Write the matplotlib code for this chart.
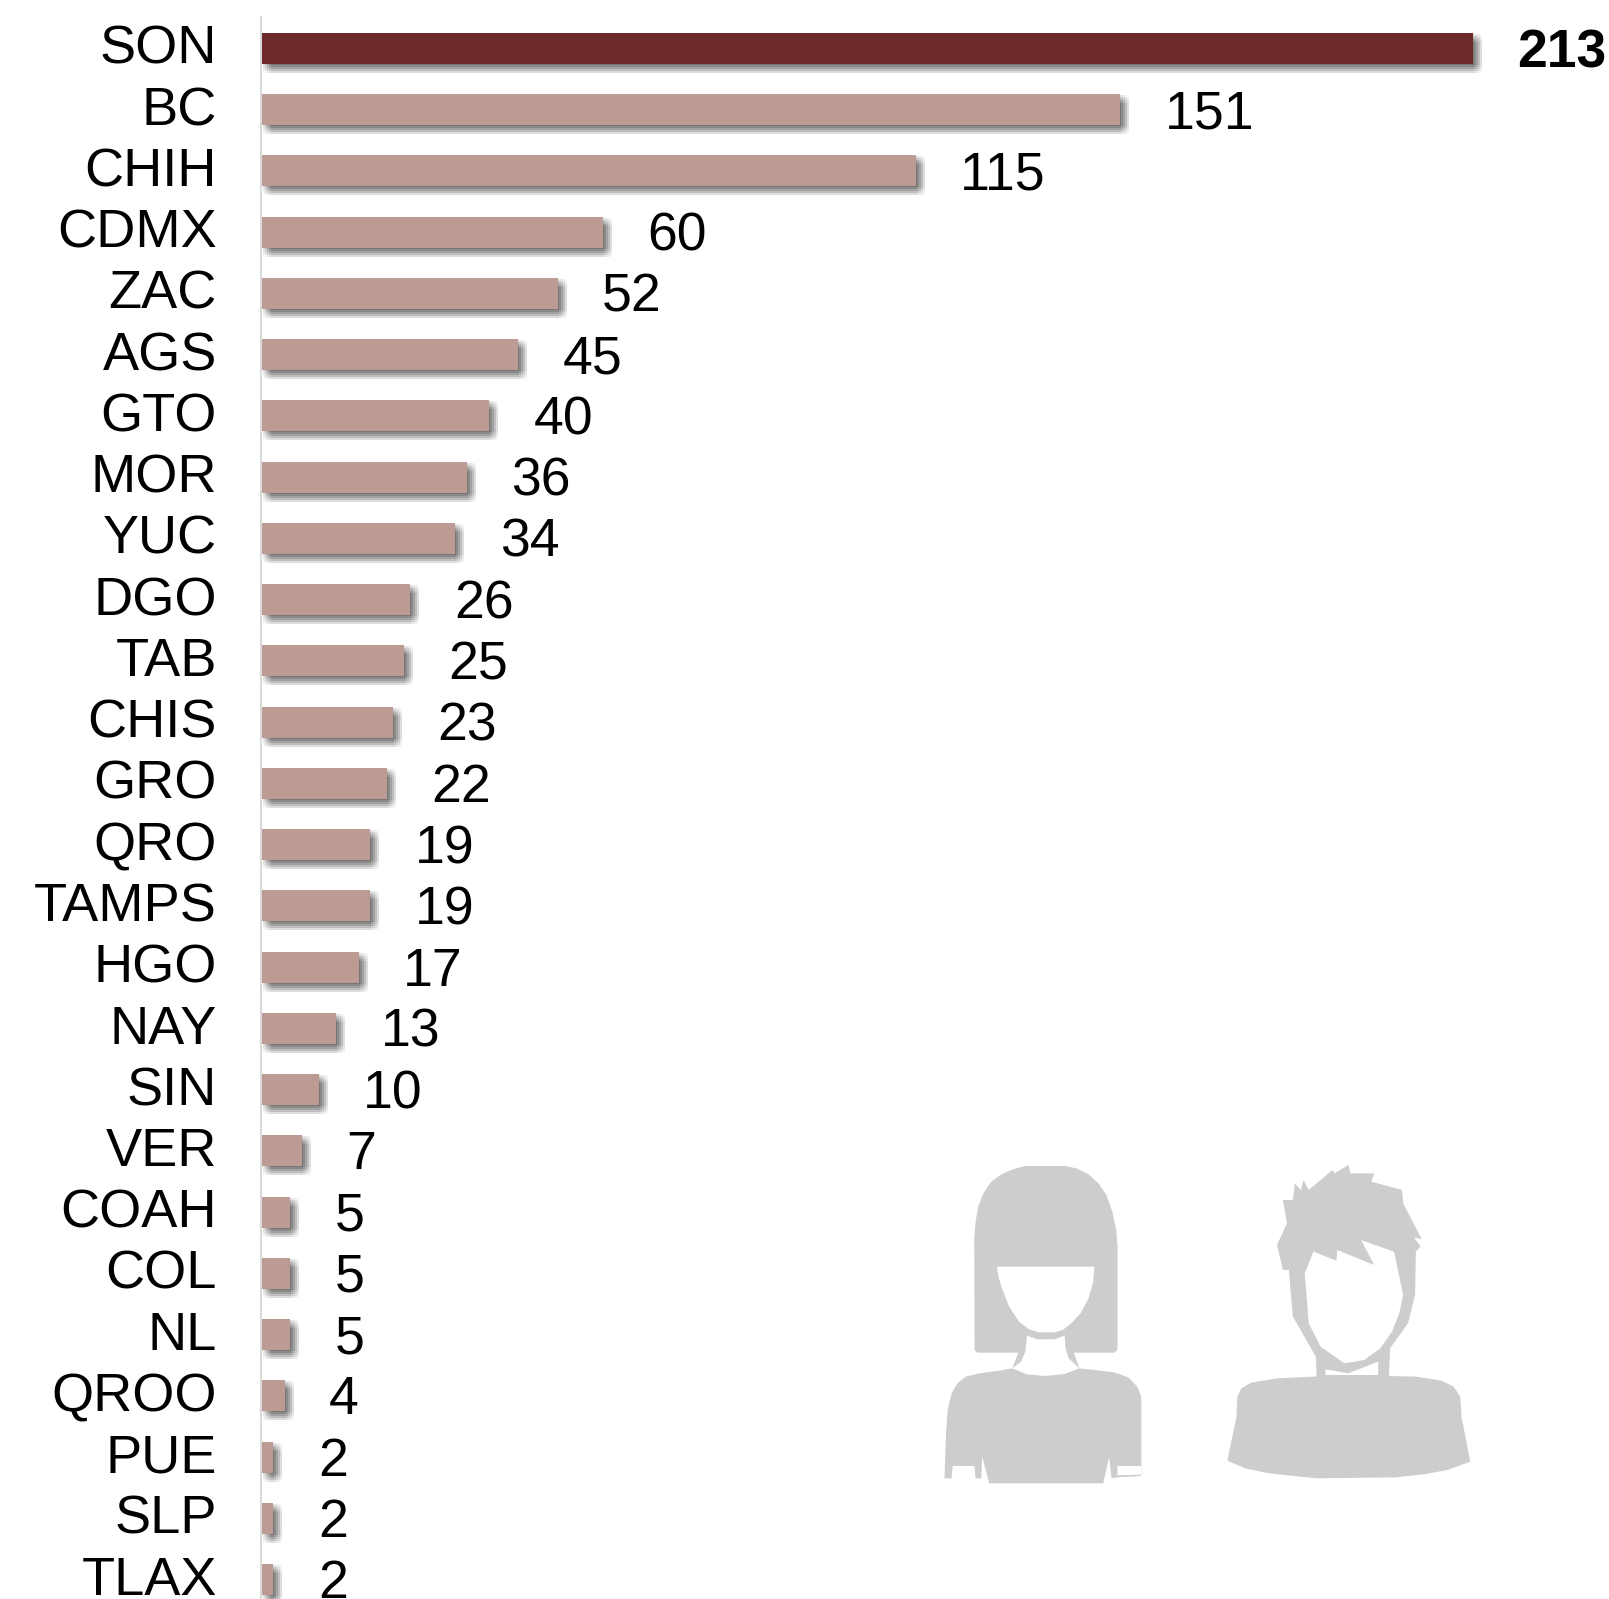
import matplotlib
matplotlib.use("Agg")
import matplotlib.pyplot as plt
import matplotlib.patheffects as pe
from matplotlib.patches import Polygon

plt.rcParams['font.family'] = ['Liberation Sans', 'DejaVu Sans']

states = ["SON","BC","CHIH","CDMX","ZAC","AGS","GTO","MOR","YUC","DGO","TAB","CHIS","GRO",
          "QRO","TAMPS","HGO","NAY","SIN","VER","COAH","COL","NL","QROO","PUE","SLP","TLAX"]
values = [213,151,115,60,52,45,40,36,34,26,25,23,22,19,19,17,13,10,7,5,5,5,4,2,2,2]

W, H = 1609, 1599
PX = 72 / 100
FS_CAT = 39
FS_VAL = 38.5
DARK, LIGHT, ICON = "#6E2A2A", "#BC9B95", "#CDCDCD"

fig = plt.figure(figsize=(W/100, H/100), dpi=100, facecolor="white")
ax = fig.add_axes([262/W, 0, 1-262/W, 1])
ax.set_xlim(0, (W-262)/5.685)
ax.set_ylim((H-48.5)/61.24, -48.5/61.24)

# soft drop shadow: a stack of faint offset copies
shadow = []
for dx in (1, 3, 5, 7, 9):
    for dy in (1, 3, 5, 7, 9):
        shadow.append(pe.SimplePatchShadow(offset=(dx*PX, -dy*PX), shadow_rgbFace="#000000", alpha=0.028))
shadow.append(pe.Normal())

colors = [DARK] + [LIGHT]*(len(values)-1)
bars = ax.barh(range(len(values)), values, height=31/61.24, color=colors, linewidth=0)
for b in bars:
    b.set_path_effects(shadow)
    b.set_clip_on(False)

for i, v in enumerate(values):
    ax.annotate(str(v), (v, i), xytext=(44.5*PX, 1*PX), textcoords="offset points",
                ha="left", va="center_baseline", fontsize=FS_VAL, color="black",
                fontweight="bold" if i == 0 else "normal", annotation_clip=False)

# category labels sit slightly above the bar centres
nudge = 4 / 61.24
ax.set_yticks([i - nudge for i in range(len(states))])
ax.set_yticklabels(states)
ax.tick_params(axis="y", length=0, pad=44*PX, labelsize=FS_CAT, labelcolor="black")
for t in ax.get_yticklabels():
    t.set_verticalalignment("center_baseline")
ax.tick_params(axis="x", bottom=False, labelbottom=False)
for s in ["top", "right", "bottom"]:
    ax.spines[s].set_visible(False)
ax.spines["left"].set_color("#D9D9D9")
ax.spines["left"].set_linewidth(2*PX)
ax.spines["left"].set_position(("outward", 1*PX))
ax.spines["left"].set_bounds((17-48.5)/61.24, (H-48.5)/61.24)

# decorative silhouettes, outlines in crop units (2.52 per px across, 3 per px down)
ov = fig.add_axes([0, 0, 1, 1], facecolor="none")
ov.set_xlim(0, W); ov.set_ylim(H, 0); ov.axis("off")
def shape(pts, col):
    ov.add_patch(Polygon([(900+x/2.52, 1140+y/3) for x, y in pts], closed=True, fc=col, ec="none"))

woman_hair = [(188,630),(187,300),(190,250),(197,200),(210,160),(230,125),(255,103),(285,88),(315,78),
              (415,78),(445,85),(475,103),(500,130),(520,165),(535,215),(545,270),(548,320),(548,630),
              (540,638),(438,638),(452,685),(283,685),(298,638),(195,638)]
woman_body = [(283,685),(250,692),(200,700),(165,710),(145,730),(130,760),(120,810),(116,880),(112,1015),
              (130,1015),(133,978),(188,978),(190,1015),(205,1015),(207,950),(225,1030),(512,1030),(527,950),
              (533,1015),(547,1012),(608,1008),(608,770),(598,740),(575,712),(540,697),(490,690),(452,685)]
woman_patch = [(548,978),(608,978),(608,1004),(548,1006)]
woman_face = [(244,380),(490,380),(487,425),(475,475),(455,520),(430,552),(410,570),(390,577),(350,577),
              (325,568),(300,545),(275,500),(257,445),(248,410)]
woman_neck = [(320,587),(345,598),(390,598),(415,587),(417,625),(425,655),(452,685),(415,702),(365,708),
              (320,703),(283,685),(305,665),(316,635)]
shape(woman_hair, ICON); shape(woman_body, ICON); shape(woman_patch, "white")
shape(woman_neck, "white"); shape(woman_face, "white")

man_hair = [(965,180),(990,180),(995,130),(1010,150),(1017,120),(1030,150),(1090,90),(1095,100),(1130,75),
            (1135,100),(1195,100),(1188,125),(1265,150),(1268,190),(1315,298),(1295,292),(1312,320),(1300,335),
            (1298,465),(1280,550),(1235,625),(1232,715),(1050,715),(1048,650),(990,530),(980,390),(965,390),
            (950,315),(975,250)]
man_face = [(1042,335),(1100,362),(1102,330),(1195,375),(1162,300),(1245,335),(1268,465),(1258,520),(1240,575),
            (1210,625),(1170,660),(1120,670),(1060,620),(1030,550),(1020,400)]
man_neck = [(1072,688),(1130,700),(1205,665),(1205,705),(1072,705)]
man_body = [(850,770),(860,745),(885,728),(950,715),(1130,705),(1300,710),(1365,722),(1395,740),(1412,770),
            (1415,830),(1437,965),(1380,990),(1320,1003),(1250,1012),(1050,1015),(930,1000),(870,985),(825,962),(848,830)]
shape(man_hair, ICON); shape(man_face, "white"); shape(man_neck, "white"); shape(man_body, ICON)

fig.savefig("out.png", dpi=100, facecolor="white")
